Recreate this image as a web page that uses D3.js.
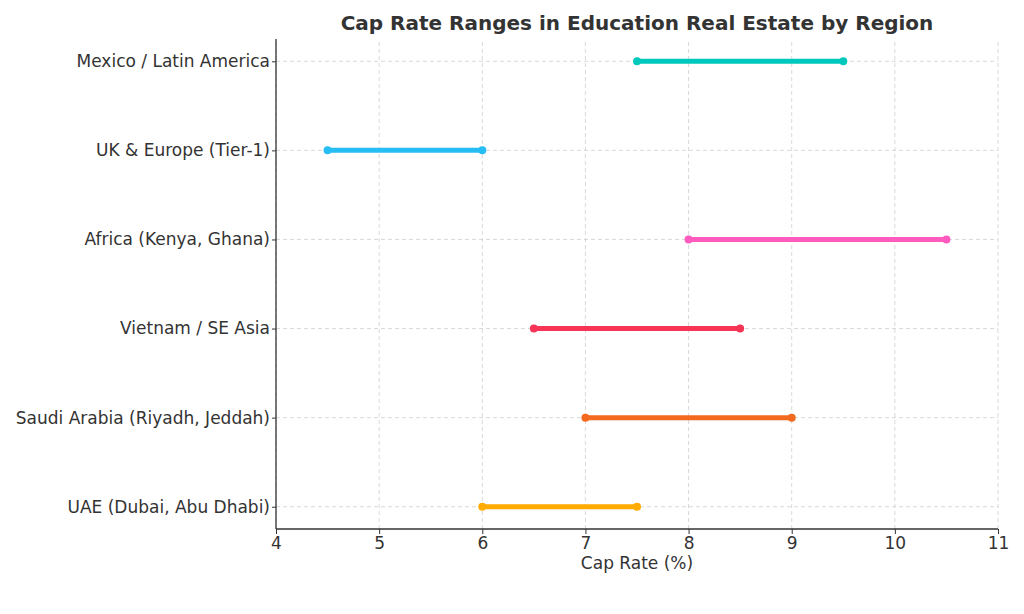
<!DOCTYPE html>
<html>
<head>
<meta charset="utf-8">
<script src="https://cdn.jsdelivr.net/npm/d3@7"></script>
<style>
  body { margin: 0; background: #fff; }
  text { font-family: "DejaVu Sans", sans-serif; fill: #333; }
</style>
</head>
<body>
<div id="chart"></div>
<script>
// regions, bottom to top as plotted
const regions = [
  "UAE (Dubai, Abu Dhabi)",
  "Saudi Arabia (Riyadh, Jeddah)",
  "Vietnam / SE Asia",
  "Africa (Kenya, Ghana)",
  "UK & Europe (Tier-1)",
  "Mexico / Latin America"
];
const lowRates = [6, 7, 6.5, 8, 4.5, 7.5];
const highRates = [7.5, 9, 8.5, 10.5, 6, 9.5];
const colors = ["#ffab00", "#f2691f", "#f73455", "#ff5bbf", "#26bdf4", "#00c8bc"];
const xTicks = [4, 5, 6, 7, 8, 9, 10, 11];

const W = 1024, H = 614;
const margin = { left: 276, right: 26, top: 39, bottom: 85 };

const svg = d3.select("#chart").append("svg")
  .attr("width", W).attr("height", H);

const x = d3.scaleLinear().domain([4, 11])
  .range([margin.left, W - margin.right]);
// categorical positions as numeric index, padded by a quarter step
const y = d3.scaleLinear().domain([-0.25, regions.length - 0.75])
  .range([H - margin.bottom, margin.top]);

// grid
const grid = svg.append("g").attr("stroke", "#cfcfcf")
  .attr("stroke-dasharray", "4,3").attr("stroke-width", 0.8);
grid.selectAll("line.v").data(xTicks).join("line")
  .attr("x1", d => x(d)).attr("x2", d => x(d))
  .attr("y1", y.range()[0]).attr("y2", y.range()[1]);
grid.selectAll("line.h").data(regions).join("line")
  .attr("x1", x.range()[0]).attr("x2", x.range()[1])
  .attr("y1", (d, i) => y(i)).attr("y2", (d, i) => y(i));

// range bars
const rows = svg.append("g").selectAll("g").data(regions).join("g");
rows.append("line")
  .attr("x1", (d, i) => x(lowRates[i])).attr("x2", (d, i) => x(highRates[i]))
  .attr("y1", (d, i) => y(i)).attr("y2", (d, i) => y(i))
  .attr("stroke", (d, i) => colors[i]).attr("stroke-width", 5);
rows.selectAll("circle").data((d, i) => [[lowRates[i], i], [highRates[i], i]]).join("circle")
  .attr("cx", d => x(d[0])).attr("cy", d => y(d[1])).attr("r", 4)
  .attr("fill", d => colors[d[1]]);

// axes
const xAxis = svg.append("g")
  .attr("transform", `translate(0,${y.range()[0]})`)
  .call(d3.axisBottom(x).tickValues(xTicks).tickFormat(d3.format("d"))
    .tickSize(5).tickPadding(3));
const yAxis = svg.append("g")
  .attr("transform", `translate(${margin.left},0)`)
  .call(d3.axisLeft(y).tickValues(d3.range(regions.length))
    .tickFormat(i => regions[i]).tickSize(4).tickPadding(2));
[xAxis, yAxis].forEach(a => {
  a.select(".domain").attr("stroke", "#333").attr("stroke-width", 1.3);
  a.selectAll(".tick line").attr("stroke", "#333");
  a.selectAll(".tick text").attr("font-size", 17).attr("fill", "#333");
});
xAxis.select(".domain").attr("d", `M${x.range()[0]},0H${x.range()[1]}`);
yAxis.select(".domain").attr("d", `M0,${y.range()[0]}V${y.range()[1]}`);

// labels
svg.append("text")
  .attr("x", (x.range()[0] + x.range()[1]) / 2).attr("y", 30)
  .attr("text-anchor", "middle").attr("font-size", 20).attr("font-weight", "bold")
  .text("Cap Rate Ranges in Education Real Estate by Region");
svg.append("text")
  .attr("x", (x.range()[0] + x.range()[1]) / 2).attr("y", 569)
  .attr("text-anchor", "middle").attr("font-size", 17)
  .text("Cap Rate (%)");
</script>
</body>
</html>
